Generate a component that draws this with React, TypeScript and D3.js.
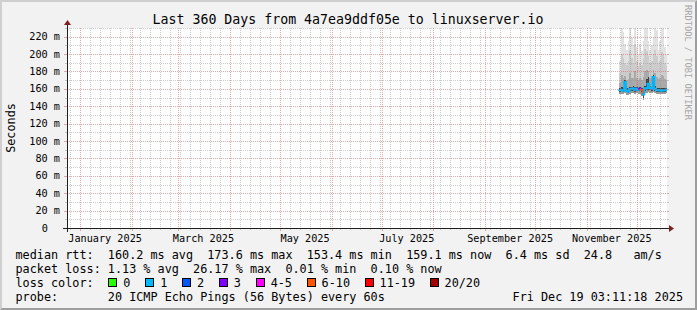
import React from "react";
import * as d3 from "d3";

const W = 697;
const H = 310;

const END = new Date(Date.UTC(2025, 11, 19, 3, 11, 18));
const START = new Date(END.getTime() - 360 * 86400000);

const titleText = "Last 360 Days from 4a7ea9ddf05e to linuxserver.io";
const yAxisTitle = "Seconds";
const watermark = "RRDTOOL / TOBI OETIKER";

const yMajorValues = [0, 20, 40, 60, 80, 100, 120, 140, 160, 180, 200, 220];
const yMajorLabels = ["0", "20 m", "40 m", "60 m", "80 m", "100 m", "120 m", "140 m", "160 m", "180 m", "200 m", "220 m"];
const yMinorValues = [10, 30, 50, 70, 90, 110, 130, 150, 170, 190, 210, 230];

const monthLabelDates = ["2025-01-01", "2025-03-01", "2025-05-01", "2025-07-01", "2025-09-01", "2025-11-01"];
const monthLabels = ["January 2025", "March 2025", "May 2025", "July 2025", "September 2025", "November 2025"];

// smoke data: one column per day
const dataStartISO = "2025-11-20T12:00:00Z";
const smokeMax = [192, 240, 225, 212, 205, 215, 238, 218, 210, 245, 208, 200, 212, 203, 215, 240, 232, 215, 205, 210, 218, 240, 228, 205, 215, 235, 230, 208, 200];
const smokeP90 = [178, 200, 195, 190, 188, 192, 205, 196, 190, 212, 192, 186, 190, 188, 194, 206, 204, 198, 190, 192, 200, 205, 198, 190, 192, 202, 200, 190, 186];
const smokeP75 = [167, 176, 173, 175, 170, 171, 178, 173, 172, 180, 172, 170, 172, 170, 174, 180, 182, 181, 172, 173, 182, 178, 174, 171, 172, 176, 175, 171, 170];
const smokeP60 = [161, 162, 161, 170, 160.5, 159.5, 162, 162.5, 163, 162, 162.5, 161.5, 162.5, 161.5, 157, 163.5, 171, 174, 163.5, 162.5, 175.5, 163, 161, 161, 161, 161, 161, 161, 161.5];
const medianMs = [158.5, 159, 158, 167.5, 158, 157, 159.5, 160, 160.5, 159, 160, 159, 160, 159, 153.4, 160.5, 161, 166, 161, 160, 173.6, 160, 158.5, 158.5, 158.5, 158, 158.5, 158.5, 159.1];
const smokeP25 = [156.5, 157, 156, 158, 156, 155.5, 157, 157.5, 158, 156.5, 157.5, 157, 157, 156, 150, 158, 158.5, 159, 158.5, 157.5, 160, 157.5, 156.5, 156.5, 156.5, 156, 156.5, 156.5, 157];
const smokeMin = [154, 154.5, 154, 155, 153.5, 153, 154.5, 155, 155, 154, 155, 154.5, 154, 152, 147, 155, 155.5, 156, 155.5, 155, 156, 155, 154.5, 154.5, 154, 154, 154.5, 154.5, 155];
const lossCount = [1, 1, 1, 1, 1, 1, 1, 1, 1, 1, 1, 1, 3, 6, 1, 1, 1, 1, 1, 1, 1, 1, 1, 1, 1, 1, 1, 1, 1];

const lossLegend = ["0", "1", "2", "3", "4-5", "6-10", "11-19", "20/20"];
const lossColors = ["#26ff00", "#00b8ff", "#0059ff", "#7e00ff", "#ff00ff", "#ff5500", "#ff0000", "#a10000"];
const lossUpper = [0, 1, 2, 3, 5, 10, 19, 20];

const legendRow1 = "median rtt:  160.2 ms avg  173.6 ms max  153.4 ms min  159.1 ms now  6.4 ms sd  24.8   am/s";
const legendRow2 = "packet loss: 1.13 % avg  26.17 % max  0.01 % min  0.10 % now";
const legendRow3 = "loss color:";
const probeText = "probe:       20 ICMP Echo Pings (56 Bytes) every 60s";
const dateText = "Fri Dec 19 03:11:18 2025";

const FONT = "'DejaVu Sans Mono', monospace";

function lossColor(c: number) {
  const idx = lossUpper.findIndex((u) => c <= u);
  return lossColors[idx < 0 ? lossColors.length - 1 : idx];
}

export default function App() {
  const X0 = 67, X1 = 667, YB = 228, YT = 28;
  const x = d3.scaleUtc().domain([START, END]).range([X0, X1]);
  const y = d3.scaleLinear().domain([0, 230]).range([YB, YT]);

  const dataStart = new Date(dataStartISO);
  const t0 = (i: number) => d3.utcDay.offset(dataStart, i);

  const layers = [
    { hi: smokeMax, lo: smokeP90, color: "#e2e2e2" },
    { hi: smokeP90, lo: smokeP75, color: "#cccccc" },
    { hi: smokeP75, lo: smokeP60, color: "#a9a9a9" },
    { hi: smokeP60, lo: medianMs, color: "#3c3c3c" },
    { hi: medianMs, lo: smokeP25, color: "#4a4a4a" },
    { hi: smokeP25, lo: smokeMin, color: "#9a9a9a" },
  ];

  const majorMonths = d3.utcMonth.range(START, END);
  const majorSet = new Set(majorMonths.map((d) => +d));
  const minorDays = d3.utcDay.range(new Date(Date.UTC(2024, 11, 26)), END, 6).filter((d) => !majorSet.has(+d) && d > START);

  const px = (v: number) => Math.round(v) + 0.5;

  const minorGrid = "rgba(143,143,143,0.45)";
  const majorGrid = "rgba(222,79,79,0.5)";

  const medianLine = d3.line<[number, number]>().x((d) => d[0]).y((d) => d[1]);

  // legend box positions
  const cw = 7.04;
  let bx = 108.3;
  const boxes = lossLegend.map((lab, i) => {
    const b = { x: bx, label: lab, color: lossColors[i] };
    bx = bx + 15 + lab.length * cw + 14.8;
    return b;
  });

  return (
    <svg width={W} height={H} style={{ position: "absolute", left: 0, top: 0 }} xmlns="http://www.w3.org/2000/svg">
      <defs>
        <clipPath id="plotclip">
          <rect x={X0} y={YT} width={X1 - X0} height={YB - YT} />
        </clipPath>
      </defs>
      <rect x={0} y={0} width={W} height={H} fill="#f2f2f2" />
      <polygon points={`0,${H} 2,${H - 2} 2,2 ${W - 2},2 ${W},0 0,0`} fill="#cfcfcf" />
      <polygon points={`2,${H - 2} ${W - 2},${H - 2} ${W - 2},2 ${W},0 ${W},${H} 0,${H}`} fill="#9e9e9e" />
      <rect x={X0} y={YT} width={X1 - X0} height={YB - YT} fill="#ffffff" />

      {/* smoke */}
      <g clipPath="url(#plotclip)" shapeRendering="crispEdges">
        {layers.map((L, li) =>
          medianMs.map((_, i) => {
            const xa = x(t0(i));
            const xb = x(t0(i + 1));
            const ya = y(L.hi[i]);
            const yb = y(L.lo[i]);
            return <rect key={`${li}-${i}`} x={xa} y={ya} width={xb - xa} height={Math.max(0, yb - ya)} fill={L.color} />;
          })
        )}
      </g>
      {/* median */}
      <g clipPath="url(#plotclip)">
        {medianMs.map((m, i) => {
          const pts: [number, number][] = [
            [x(t0(i)), y(m)],
            [x(t0(i + 1)), y(m)],
          ];
          if (i + 1 < medianMs.length) pts.push([x(t0(i + 1)), y(medianMs[i + 1])]);
          return <path key={i} d={medianLine(pts) || ""} fill="none" stroke={lossColor(lossCount[i])} strokeWidth={2} strokeLinecap="square" />;
        })}
      </g>

      {/* grid */}
      <g shapeRendering="crispEdges">
        {yMinorValues.map((v) => (
          <g key={`hm${v}`}>
            <line x1={X0} x2={X1} y1={px(y(v))} y2={px(y(v))} stroke={minorGrid} strokeDasharray="1,1" />
            <line x1={X0 - 2} x2={X0} y1={px(y(v))} y2={px(y(v))} stroke={minorGrid} />
            <line x1={X1} x2={X1 + 2} y1={px(y(v))} y2={px(y(v))} stroke={minorGrid} />
          </g>
        ))}
        {minorDays.map((d) => (
          <g key={`vm${+d}`}>
            <line x1={px(x(d))} x2={px(x(d))} y1={YT} y2={YB} stroke={minorGrid} strokeDasharray="1,1" />
            <line x1={px(x(d))} x2={px(x(d))} y1={YB} y2={YB + 2} stroke={minorGrid} />
          </g>
        ))}
        {yMajorValues.slice(1).map((v) => (
          <g key={`hM${v}`}>
            <line x1={X0} x2={X1} y1={px(y(v))} y2={px(y(v))} stroke={majorGrid} strokeDasharray="1,1" />
            <line x1={X0 - 3} x2={X0} y1={px(y(v))} y2={px(y(v))} stroke={majorGrid} />
            <line x1={X1} x2={X1 + 2} y1={px(y(v))} y2={px(y(v))} stroke={majorGrid} />
          </g>
        ))}
        {majorMonths.map((d) => (
          <g key={`vM${+d}`}>
            <line x1={px(x(d))} x2={px(x(d))} y1={YT} y2={YB} stroke={majorGrid} strokeDasharray="1,1" />
            <line x1={px(x(d))} x2={px(x(d))} y1={YB} y2={YB + 3} stroke={majorGrid} />
          </g>
        ))}
      </g>

      {/* axes */}
      <g shapeRendering="crispEdges">
        <line x1={X0 - 4} x2={X1 + 4} y1={YB + 0.5} y2={YB + 0.5} stroke="#1f1f1f" />
        <line x1={X0 + 0.5} x2={X0 + 0.5} y1={YB + 4} y2={YT - 4} stroke="#1f1f1f" />
      </g>
      <polygon points={`${X1 + 2},${YB - 3} ${X1 + 2},${YB + 4} ${X1 + 7},${YB + 0.5}`} fill="#801f1f" />
      <polygon points={`${X0 - 3},${YT - 3} ${X0 + 4},${YT - 3} ${X0 + 0.5},${YT - 8}`} fill="#801f1f" />

      {/* y tick labels */}
      <g fontFamily={FONT} fontSize={10.2} fill="#000">
        {yMajorValues.map((v, i) => (
          <text key={`yl${v}`} x={v === 0 ? 48 : 60} y={y(v) + 3.6} textAnchor="end">
            {yMajorLabels[i]}
          </text>
        ))}
        {monthLabelDates.map((ds, i) => (
          <text key={`xl${ds}`} x={x(d3.utcDay.offset(new Date(ds + "T00:00:00Z"), 15))} y={241.5} textAnchor="middle">
            {monthLabels[i]}
          </text>
        ))}
      </g>

      {/* titles */}
      <text x={348} y={24} textAnchor="middle" fontFamily={FONT} fontSize={13.25} fill="#000">
        {titleText}
      </text>
      <text transform={`translate(14.5,128) rotate(-90)`} textAnchor="middle" fontFamily={FONT} fontSize={11.8} fill="#000">
        {yAxisTitle}
      </text>
      <text transform={`translate(684.5,5) rotate(90)`} fontFamily={FONT} fontSize={8.7} fill="#a6a6a6">
        {watermark}
      </text>

      {/* legend */}
      <g fontFamily={FONT} fontSize={11.8} fill="#000">
        <text x={15.5} y={258.5} xmlSpace="preserve" style={{ whiteSpace: "pre" }}>{legendRow1}</text>
        <text x={15.5} y={272.5} xmlSpace="preserve" style={{ whiteSpace: "pre" }}>{legendRow2}</text>
        <text x={15.5} y={286.5}>{legendRow3}</text>
        {boxes.map((b) => (
          <g key={b.label}>
            <rect x={Math.round(b.x) + 0.5} y={278.5} width={8} height={8} fill={b.color} stroke="#000" strokeWidth={1} shapeRendering="crispEdges" />
            <text x={b.x + 15} y={286.5}>{b.label}</text>
          </g>
        ))}
        <text x={15.5} y={300.5} xmlSpace="preserve" style={{ whiteSpace: "pre" }}>{probeText}</text>
        <text x={683} y={300.5} textAnchor="end">{dateText}</text>
      </g>
    </svg>
  );
}
